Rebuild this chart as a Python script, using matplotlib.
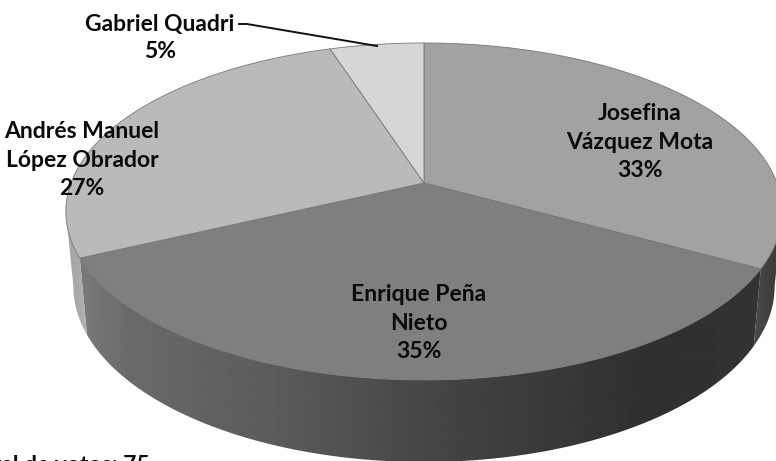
import numpy as np
import matplotlib
matplotlib.use('Agg')
import matplotlib.pyplot as plt
from matplotlib.patches import Polygon

names = ['Josefina\nVázquez Mota', 'Enrique Peña\nNieto', 'Andrés Manuel\nLópez Obrador', 'Gabriel Quadri']
shares = [33, 35, 27, 5]
top_colors = ['#a1a3a2', '#7f7f7f', '#bababa', '#d6d6d6']

plt.rcParams['font.family'] = ['Lato', 'DejaVu Sans']
plt.rcParams['font.weight'] = 'bold'

fig = plt.figure(figsize=(7.76, 4.61), dpi=100)
ax = fig.add_axes([0, 0, 1, 1])

K = 0.169


# tilted pie: circle seen in perspective, angle clockwise from the top
def rim(theta, y0, a, b):
    u, v = np.sin(theta), np.cos(theta)
    w = 1 + K * v
    return np.column_stack([424 + a * u / w, y0 - b * v / w])


def top_rim(theta):
    return rim(theta, 183, 353, 163.7)


def low_rim(theta):
    return rim(theta, 256.6, 345.6, 170.7)


edges = 2 * np.pi * np.cumsum([0] + shares) / sum(shares)
# where the rim turns back, the side of the pie ends there
right_turn = np.arccos(-K)
left_turn = 2 * np.pi - right_turn


def side(start, end, cols, xs):
    t = np.linspace(start, end, 200)
    pts = np.vstack([top_rim(t), low_rim(t)[::-1]])
    poly = Polygon(pts, closed=True, fc='none', ec='none')
    ax.add_patch(poly)
    grad = np.interp(np.arange(776), xs, cols)[None, :]
    im = ax.imshow(grad, extent=(0, 776, 461, 0), cmap='gray', vmin=0, vmax=255,
                   aspect='auto', zorder=1, interpolation='bilinear')
    im.set_clip_path(poly)


side(right_turn, edges[1], [0x50, 0x42, 0x3c], [750, 765, 776])
side(edges[1], edges[2], [0x78, 0x6a, 0x58, 0x46, 0x39, 0x30, 0x33], [87, 130, 300, 424, 550, 650, 760])
side(edges[2], left_turn, [0xa6, 0xa8, 0xb2], [60, 75, 90])
ax.set_xlim(0, 776)
ax.set_ylim(461, 0)
ax.axis('off')

for i, c in enumerate(top_colors):
    t = np.linspace(edges[i], edges[i + 1], 200)
    pts = np.vstack([[[424, 183]], top_rim(t)])
    ax.add_patch(Polygon(pts, closed=True, fc=c, ec='#777777', lw=0.6, zorder=2))

label_pos = [(640, 142), (419, 323), (82, 160)]
for (x, y), n, s in zip(label_pos, names, shares):
    ax.text(x, y, f'{n}\n{s}%', ha='center', va='center', fontsize=16.5,
            linespacing=1.42, color='#0a0a0a', zorder=4)

ax.text(160, 38, f'{names[3]}\n{shares[3]}%', ha='center', va='center', fontsize=16.5,
        linespacing=1.3, color='#0a0a0a', zorder=4)
ax.plot([239, 247, 377], [24, 24, 46], color='#111111', lw=1.4, zorder=4)

ax.text(150, 455, 'Total de votos: 75', ha='right', va='top', fontsize=16.5,
        color='#0a0a0a', zorder=4)

fig.savefig('out.png', dpi=100)
